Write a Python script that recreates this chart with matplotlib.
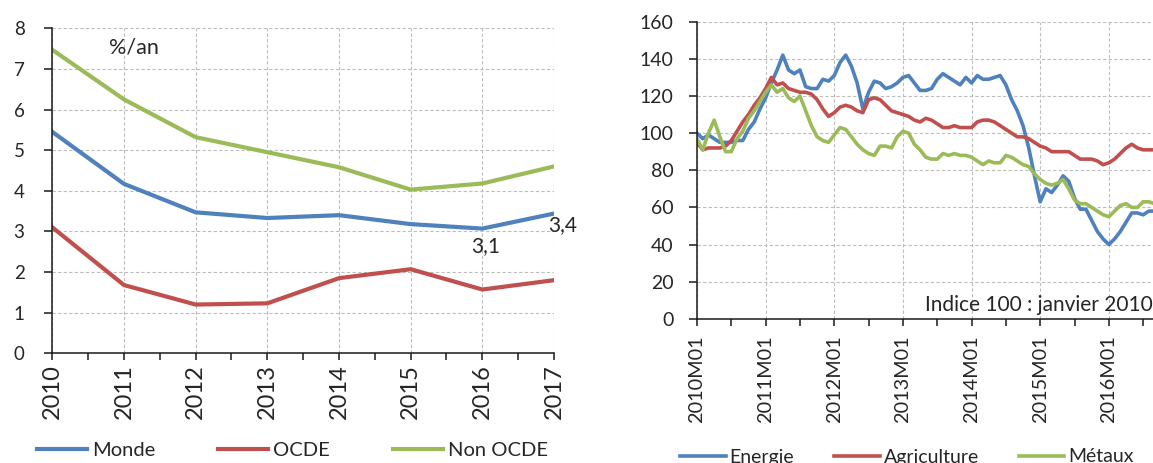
import numpy as np
import matplotlib
matplotlib.use("Agg")
import matplotlib.pyplot as plt
from matplotlib.ticker import MultipleLocator, FixedLocator

# --- annual growth (%/an) ---
years = [2010, 2011, 2012, 2013, 2014, 2015, 2016, 2017]
monde = [5.45, 4.17, 3.47, 3.33, 3.40, 3.18, 3.07, 3.44]
ocde = [3.10, 1.68, 1.20, 1.23, 1.85, 2.07, 1.57, 1.80]
non_ocde = [7.47, 6.25, 5.32, 4.95, 4.58, 4.03, 4.18, 4.60]
labelled_years = [2016, 2017]

# --- monthly commodity price indices (100 = janvier 2010), from 2010M01 ---
energie = [
    100, 97, 99, 97, 95, 95, 95, 96, 96, 102, 106, 113,
    119, 127, 134, 142, 134, 132, 134, 125, 124, 124, 129, 128,
    131, 138, 142, 136, 127, 113, 122, 128, 127, 124, 125, 127,
    130, 131, 127, 123, 123, 124, 129, 132, 130, 128, 126, 130,
    127, 131, 129, 129, 130, 131, 126, 118, 112, 104, 92, 77,
    63, 70, 68, 72, 77, 74, 65, 59, 59, 53, 47, 43,
    40, 43, 47, 52, 57, 57, 56, 58, 58,
]
agriculture = [
    95, 91, 92, 92, 92, 93, 96, 101, 106, 110, 115, 119,
    124, 130, 126, 127, 124, 123, 122, 122, 121, 118, 113, 109,
    111, 114, 115, 114, 112, 111, 118, 119, 118, 115, 112, 111,
    110, 109, 107, 106, 108, 107, 105, 103, 103, 104, 103, 103,
    103, 106, 107, 107, 106, 104, 102, 100, 98, 98, 97, 95,
    93, 92, 90, 90, 90, 90, 88, 86, 86, 86, 85, 83,
    84, 86, 89, 92, 94, 92, 91, 91, 91,
]
metaux = [
    97, 91, 100, 107, 98, 90, 90, 97, 101, 108, 112, 117,
    122, 126, 122, 124, 119, 117, 120, 112, 104, 98, 96, 95,
    99, 103, 102, 98, 94, 91, 89, 88, 93, 93, 92, 98,
    101, 100, 94, 91, 87, 86, 86, 89, 88, 89, 88, 88,
    87, 85, 83, 85, 84, 84, 88, 87, 85, 83, 82, 78,
    75, 73, 72, 73, 75, 70, 64, 62, 62, 60, 58, 56,
    55, 58, 61, 62, 60, 60, 63, 63, 62,
]
tick_years = [2010, 2011, 2012, 2013, 2014, 2015, 2016, 2017]

BLUE, RED, GREEN = "#4F81BD", "#C0504D", "#9BBB59"
TXT = "#262626"
GRID = "#BDBDBD"

plt.rcParams["font.family"] = ["Lato", "DejaVu Sans"]
plt.rcParams["text.color"] = TXT

fig = plt.figure(figsize=(11.53, 4.63), dpi=100)
fig.patch.set_facecolor("white")

W, H = 1153, 463


def px_axes(left, top, right, bottom):
    return fig.add_axes([left / W, 1 - bottom / H, (right - left) / W, (bottom - top) / H])


def style(ax):
    for side in ("top", "right"):
        ax.spines[side].set_visible(False)
    for side in ("left", "bottom"):
        ax.spines[side].set_color("#1a1a1a")
        ax.spines[side].set_linewidth(1.1)
    ax.grid(which="major", color=GRID, linestyle=(0, (3, 2)), linewidth=0.8)
    ax.set_axisbelow(True)
    ax.tick_params(which="both", direction="out", color="#1a1a1a", width=1.1)


# ---------------- left: croissance annuelle ----------------
ax1 = px_axes(52.3, 28.3, 554, 353.3)
style(ax1)
l1, = ax1.plot(years, monde, color=BLUE, lw=3.0, solid_joinstyle="round")
l2, = ax1.plot(years, ocde, color=RED, lw=3.0, solid_joinstyle="round")
l3, = ax1.plot(years, non_ocde, color=GREEN, lw=3.0, solid_joinstyle="round")
ax1.set_xlim(years[0], years[-1])
ax1.set_ylim(0, 8)
ax1.yaxis.set_major_locator(MultipleLocator(1))
ax1.xaxis.set_minor_locator(MultipleLocator(0.5))
ax1.set_xticks(years)
ax1.set_xticklabels([str(y) for y in years], rotation=90, fontsize=17, color=TXT)
ax1.tick_params(axis="y", labelsize=13.5, labelcolor=TXT, length=6, pad=14)
ax1.tick_params(axis="x", which="both", length=5, pad=3)
ax1.grid(which="minor", visible=False)

ax1.text(2010.79, 7.53, "%/an", fontsize=15.5, va="center", ha="left")
for yr, dy in zip(labelled_years, [-0.44, -0.29]):
    v = monde[years.index(yr)]
    ax1.text(yr + (0.12 if yr == 2017 else 0.04), v + dy, f"{v:.1f}".replace(".", ","),
             fontsize=15, ha="center", va="center")

fig.legend([l1, l2, l3], ["Monde", "OCDE", "Non OCDE"], loc="center left",
           bbox_to_anchor=(37 / W, 1 - 450.7 / H), bbox_transform=fig.transFigure,
           ncol=3, frameon=False, fontsize=14.5, handlelength=2.5,
           handletextpad=0.25, columnspacing=3.1, borderpad=0, borderaxespad=0)

# ---------------- right: prix des matières premières ----------------
months = np.arange(len(energie))
px_per_month = 5.72
ax2 = px_axes(697, 21.7, 697 + 84 * px_per_month, 318.8)
style(ax2)
m1, = ax2.plot(months, energie, color=BLUE, lw=2.6, solid_joinstyle="round")
m2, = ax2.plot(months, agriculture, color=RED, lw=2.6, solid_joinstyle="round")
m3, = ax2.plot(months, metaux, color=GREEN, lw=2.6, solid_joinstyle="round")
ax2.set_xlim(0, 84)
ax2.set_ylim(0, 160)
ax2.yaxis.set_major_locator(MultipleLocator(20))
jan = [12 * i for i in range(len(tick_years))]
ax2.set_xticks(jan)
ax2.set_xticklabels([f"{y}M01" for y in tick_years], rotation=90, fontsize=14.3, color=TXT)
ax2.xaxis.set_minor_locator(FixedLocator([j + 6 for j in jan]))
ax2.tick_params(axis="y", labelsize=14, labelcolor=TXT, length=6, pad=11)
ax2.tick_params(axis="x", which="both", length=5, pad=7)

ax2.text(39.9, 4.2, "Indice 100 : janvier 2010", fontsize=15, ha="left", va="baseline")

fig.legend([m1, m2, m3], ["Energie", "Agriculture", "Métaux"], loc="center left",
           bbox_to_anchor=(680 / W, 1 - 457 / H), bbox_transform=fig.transFigure,
           ncol=3, frameon=False, fontsize=14, handlelength=2.35,
           handletextpad=0.2, columnspacing=2.05, borderpad=0, borderaxespad=0)

fig.savefig("out.png", dpi=100, facecolor="white")
